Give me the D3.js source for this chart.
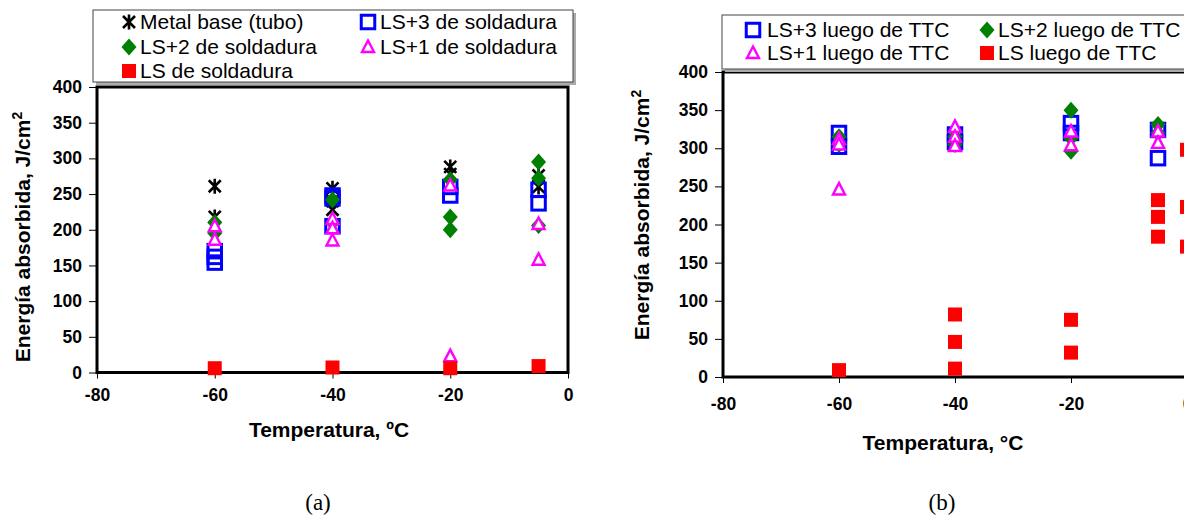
<!DOCTYPE html>
<html>
<head>
<meta charset="utf-8">
<script src="https://cdn.jsdelivr.net/npm/d3@7"></script>
<style>
  html, body { margin: 0; padding: 0; background: #fff; }
  svg { display: block; font-family: "Liberation Sans", Arial, sans-serif; }
</style>
</head>
<body>
<svg id="chart" width="1184" height="518"></svg>
<script>
// Temperatures tested (ºC)
const temps = [-60, -40, -20, -5];
const tempsTTC = [-60, -40, -20, -5, 0];

// Axis ticks
const xTicks = [-80, -60, -40, -20, 0];
const yTicks = [0, 50, 100, 150, 200, 250, 300, 350, 400];

// (a) As-welded: absorbed energy (J/cm²) per temperature, one sub-array per temperature
const metalBase = [[261, 218], [258, 240, 228], [288, 278], [276, 260]];
const ls3Weld   = [[170, 162, 154], [248, 244, 205], [260, 248], [256, 237]];
const ls2Weld   = [[210, 195], [242, 210], [270, 218, 200], [295, 272, 206]];
const ls1Weld   = [[205, 186], [215, 202, 185], [262, 23], [208, 158]];
const lsWeld    = [[6], [7], [6], [9]];

// (b) After post-weld heat treatment (TTC)
const ls3TTC = [[320, 302], [318, 308], [333, 320], [324, 287], []];
const ls2TTC = [[315, 305], [315, 305], [350, 313, 296], [331, 320], []];
const ls1TTC = [[312, 305, 246], [328, 315, 303], [322, 304], [322, 307], []];
const lsTTC  = [[9], [82, 46, 11], [75, 32], [232, 210, 184], [298, 223, 171]];

// Legend labels
const legendA = ["Metal base (tubo)", "LS+3 de soldadura", "LS+2 de soldadura", "LS+1 de soldadura", "LS de soldadura"];
const legendB = ["LS+3 luego de TTC", "LS+2 luego de TTC", "LS+1 luego de TTC", "LS luego de TTC"];

const svg = d3.select("#chart");
const plainNum = d => String(d);   // hyphen-minus, as printed on the axes

// Marker renderers
function drawMarker(g, kind) {
  if (kind === "asterisk") {
    const s = 7.5;
    g.append("path")
      .attr("d", `M0,${-s}V${s}M${-s*0.8},${-s*0.8}L${s*0.8},${s*0.8}M${-s*0.8},${s*0.8}L${s*0.8},${-s*0.8}`)
      .attr("stroke", "#000").attr("stroke-width", 2.6).attr("fill", "none");
  } else if (kind === "openSquare") {
    g.append("rect").attr("x", -6.75).attr("y", -6.75).attr("width", 13.5).attr("height", 13.5)
      .attr("fill", "none").attr("stroke", "#0000ff").attr("stroke-width", 3);
  } else if (kind === "diamond") {
    g.append("path").attr("d", "M0,-8.5L7.5,0L0,8.5L-7.5,0Z").attr("fill", "#008000");
  } else if (kind === "triangle") {
    g.append("path").attr("d", "M0,-6.5L6,5L-6,5Z")
      .attr("fill", "#fff").attr("stroke", "#ff00ff").attr("stroke-width", 2.4)
      .attr("stroke-linejoin", "miter");
  } else if (kind === "redSquare") {
    g.append("rect").attr("x", -7).attr("y", -7).attr("width", 14).attr("height", 14).attr("fill", "#ff0000");
  }
}

function panel(cfg) {
  const x = d3.scaleLinear().domain([-80, 0]).range([cfg.left, cfg.right]);
  const y = d3.scaleLinear().domain([0, 400]).range([cfg.bottom, cfg.top]);
  const root = svg.append("g");

  // Y axis ticks and labels
  const yAxis = d3.axisLeft(y).tickValues(yTicks).tickSize(8).tickPadding(7).tickFormat(plainNum);
  const ya = root.append("g").attr("transform", `translate(${cfg.left},0)`).call(yAxis);
  ya.select(".domain").remove();
  ya.selectAll(".tick line").attr("stroke", "#000").attr("stroke-width", 1);
  ya.selectAll(".tick text").attr("font-size", 17.5).attr("font-weight", "bold")
    .attr("font-family", "Liberation Sans, Arial, sans-serif").attr("fill", "#000");

  // X axis ticks and labels
  const xAxis = d3.axisBottom(x).tickValues(xTicks).tickSize(6).tickPadding(cfg.xPad).tickFormat(plainNum);
  const xa = root.append("g").attr("transform", `translate(0,${cfg.bottom})`).call(xAxis);
  xa.select(".domain").remove();
  xa.selectAll(".tick line").attr("stroke", "#000").attr("stroke-width", 1);
  xa.selectAll(".tick text").attr("font-size", 17.5).attr("font-weight", "bold")
    .attr("font-family", "Liberation Sans, Arial, sans-serif").attr("fill", "#000");

  // Plot frame
  root.append("rect").attr("x", cfg.left).attr("y", cfg.top)
    .attr("width", cfg.right - cfg.left).attr("height", cfg.bottom - cfg.top)
    .attr("fill", "none").attr("stroke", "#000").attr("stroke-width", 3);

  // Data points
  const pts = root.append("g");
  cfg.series.forEach(s => {
    s.values.forEach((vals, i) => {
      vals.forEach(v => {
        const g = pts.append("g").attr("transform", `translate(${x(s.temps[i])},${y(v)})`);
        drawMarker(g, s.kind);
      });
    });
  });

  // Axis titles
  root.append("text").attr("x", cfg.xTitleX).attr("y", cfg.xTitleY)
    .attr("text-anchor", "middle").attr("font-size", 21).attr("font-weight", "bold")
    .text(cfg.xTitle);
  const yt = root.append("text")
    .attr("transform", `translate(${cfg.yTitleX},${cfg.yTitleY}) rotate(-90)`)
    .attr("text-anchor", "middle").attr("font-size", 21).attr("font-weight", "bold");
  yt.append("tspan").text("Energía absorbida, J/cm");
  yt.append("tspan").attr("font-size", 14).attr("dy", -8).text("2");

  // Legend
  const L = cfg.legend;
  root.append("rect").attr("x", L.x + 3).attr("y", L.y + 3).attr("width", L.w).attr("height", L.h)
    .attr("fill", "#aaa");
  root.append("rect").attr("x", L.x).attr("y", L.y).attr("width", L.w).attr("height", L.h)
    .attr("fill", "#fff").attr("stroke", "#444").attr("stroke-width", 1);
  L.items.forEach(it => {
    const g = root.append("g").attr("transform", `translate(${it.sx},${it.y})`);
    drawMarker(g, it.kind);
    root.append("text").attr("x", it.tx).attr("y", it.y + 7)
      .attr("font-size", 21).attr("fill", "#000").text(it.label);
  });

  // Caption
  root.append("text").attr("x", cfg.capX).attr("y", 510).attr("text-anchor", "middle")
    .attr("font-family", "Liberation Serif, Times New Roman, serif").attr("font-size", 23)
    .text(cfg.caption);
}

panel({
  left: 97, right: 568, top: 87, bottom: 372.5, xPad: 10,
  xTitle: "Temperatura, ºC", xTitleX: 329, xTitleY: 437,
  yTitleX: 30, yTitleY: 237,
  caption: "(a)", capX: 318,
  series: [
    { kind: "asterisk",   temps: temps, values: metalBase },
    { kind: "openSquare", temps: temps, values: ls3Weld },
    { kind: "diamond",    temps: temps, values: ls2Weld },
    { kind: "triangle",   temps: temps, values: ls1Weld },
    { kind: "redSquare",  temps: temps, values: lsWeld }
  ],
  legend: {
    x: 93, y: 10, w: 480, h: 72,
    items: [
      { kind: "asterisk",   sx: 129, tx: 140, y: 22, label: legendA[0] },
      { kind: "openSquare", sx: 368, tx: 380, y: 22, label: legendA[1] },
      { kind: "diamond",    sx: 129, tx: 140, y: 47, label: legendA[2] },
      { kind: "triangle",   sx: 368, tx: 380, y: 47, label: legendA[3] },
      { kind: "redSquare",  sx: 129, tx: 140, y: 71, label: legendA[4] }
    ]
  }
});

panel({
  left: 723, right: 1187, top: 72, bottom: 377, xPad: 15,
  xTitle: "Temperatura, °C", xTitleX: 943, xTitleY: 450,
  yTitleX: 649, yTitleY: 215,
  caption: "(b)", capX: 942,
  series: [
    { kind: "openSquare", temps: tempsTTC, values: ls3TTC },
    { kind: "diamond",    temps: tempsTTC, values: ls2TTC },
    { kind: "triangle",   temps: tempsTTC, values: ls1TTC },
    { kind: "redSquare",  temps: tempsTTC, values: lsTTC }
  ],
  legend: {
    x: 722, y: 15, w: 470, h: 54,
    items: [
      { kind: "openSquare", sx: 753, tx: 767, y: 30, label: legendB[0] },
      { kind: "diamond",    sx: 987, tx: 998, y: 30, label: legendB[1] },
      { kind: "triangle",   sx: 753, tx: 767, y: 53, label: legendB[2] },
      { kind: "redSquare",  sx: 987, tx: 998, y: 53, label: legendB[3] }
    ]
  }
});
</script>
</body>
</html>
